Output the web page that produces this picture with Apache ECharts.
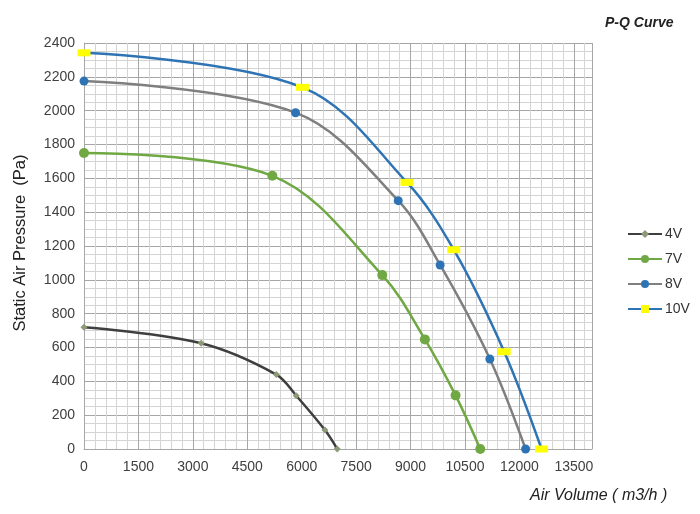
<!DOCTYPE html>
<html>
<head>
<meta charset="utf-8">
<script src="https://cdn.jsdelivr.net/npm/echarts@6.0.0/dist/echarts.min.js"></script>
<style>
  html, body { margin: 0; padding: 0; background: #fff; }
  #chart { width: 700px; height: 514px; }
</style>
</head>
<body>
<div id="chart"></div>
<script>
// P-Q curve data, [air volume m3/h, static pressure Pa]
var seriesNames = ['4V', '7V', '8V', '10V'];
var pq4V = [[0, 720], [3230, 625], [5300, 440], [5850, 315], [6640, 112], [6980, 0]];
var pq7V = [[0, 1750], [5190, 1615], [8220, 1028], [9395, 648], [10240, 317], [10920, 0]];
var pq8V = [[0, 2175], [5830, 1988], [8660, 1468], [9815, 1088], [11185, 532], [12170, 0]];
var pq10V = [[0, 2342], [6020, 2138], [8900, 1576], [10190, 1178], [11580, 575], [12610, 0]];
var xTicks = [0, 1500, 3000, 4500, 6000, 7500, 9000, 10500, 12000, 13500];

var chart = echarts.init(document.getElementById('chart'), null, { renderer: 'canvas' });

var fontFam = '"Liberation Sans", Arial, sans-serif';

function pqLine(name, data, lineColor, symbol, symbolSize, markColor) {
    return {
        name: name,
        type: 'line',
        data: data,
        smooth: 0.35,
        symbol: symbol,
        symbolSize: symbolSize,
        showAllSymbol: true,
        lineStyle: { color: lineColor, width: 2.5 },
        itemStyle: { color: markColor, borderWidth: 0 },
        z: 3
    };
}

chart.setOption({
    backgroundColor: '#fff',
    animation: false,
    textStyle: { fontFamily: fontFam },
    title: {
        text: 'P-Q Curve',
        left: 600,
        top: 11,
        textStyle: { fontSize: 14, fontWeight: 'bold', fontStyle: 'italic', color: '#222', fontFamily: fontFam }
    },
    legend: {
        orient: 'vertical',
        left: 622,
        top: 222,
        itemWidth: 34,
        itemHeight: 10,
        itemGap: 11,
        data: seriesNames,
        textStyle: { fontSize: 14, color: '#333', fontFamily: fontFam, padding: [0, 0, 0, -2] }
    },
    grid: { left: 84, top: 43, right: 108, bottom: 65 },
    xAxis: {
        type: 'value',
        min: 0,
        max: 14000,
        interval: 1500,
        axisLine: { show: true, lineStyle: { color: '#a6a6a6' } },
        axisTick: { show: false },
        axisLabel: {
            color: '#404040',
            fontSize: 14,
            margin: 11,
            formatter: function (v) { return xTicks.indexOf(v) >= 0 ? String(v) : ''; }
        },
        splitLine: { show: true, lineStyle: { color: '#a6a6a6', width: 1 } },
        minorTick: { show: false, splitNumber: 5 },
        minorSplitLine: { show: true, lineStyle: { color: '#d4d4d4', width: 1 } }
    },
    yAxis: {
        type: 'value',
        min: 0,
        max: 2400,
        interval: 200,
        name: 'Static Air Pressure  (Pa)',
        nameLocation: 'middle',
        nameGap: 55,
        nameTextStyle: { fontSize: 16.5, color: '#222', fontFamily: fontFam, padding: [0, 0, 0, 6] },
        axisLine: { show: true, lineStyle: { color: '#a6a6a6' } },
        axisTick: { show: false },
        axisLabel: {
            color: '#404040',
            fontSize: 14,
            margin: 9,
            formatter: function (v) { return String(v); }
        },
        splitLine: { show: true, lineStyle: { color: '#a6a6a6', width: 1 } },
        minorTick: { show: false, splitNumber: 4 },
        minorSplitLine: { show: true, lineStyle: { color: '#d4d4d4', width: 1 } }
    },
    graphic: [{
        type: 'text',
        left: 530,
        top: 488,
        style: {
            text: 'Air Volume ( m3/h )',
            font: 'italic 16px ' + fontFam,
            fill: '#222'
        }
    }],
    series: [
        pqLine('4V', pq4V, '#3f3f3f', 'diamond', 7, '#8c9a78'),
        pqLine('7V', pq7V, '#70a844', 'circle', 10, '#70a844'),
        pqLine('8V', pq8V, '#7f7f7f', 'circle', 9, '#2e74b5'),
        pqLine('10V', pq10V, '#2e74b5', 'rect', [13, 7], '#ffff00')
    ]
});
</script>
</body>
</html>
